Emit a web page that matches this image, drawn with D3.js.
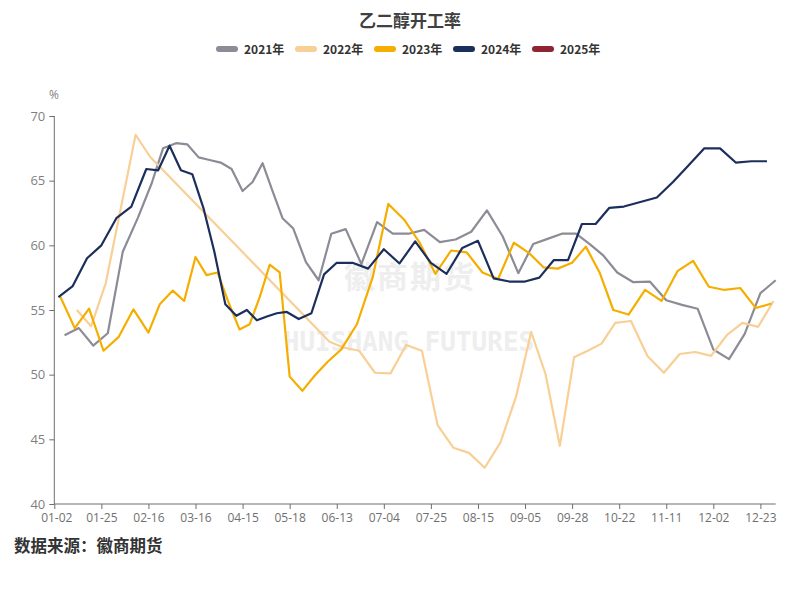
<!DOCTYPE html>
<html>
<head>
<meta charset="utf-8">
<script src="https://cdn.jsdelivr.net/npm/d3@7"></script>
<style>
  body { margin: 0; background: #fff; }
  svg text { font-family: "Noto Sans CJK SC", "Noto Sans", sans-serif; }
</style>
</head>
<body>
<svg id="chart" width="800" height="600"></svg>
<script>
// 乙二醇开工率 (weekly, %) — category axis MM-DD, one line per year
var tickLabels = ["01-02","01-25","02-16","03-16","04-15","05-18","06-13","07-04",
                  "07-25","08-15","09-05","09-28","10-22","11-11","12-02","12-23"];
var lastCategory = "12-30";
var yTicks = [40, 45, 50, 55, 60, 65, 70];

var dates2021 = ["01-07","01-14","01-21","01-28","02-04","02-11","02-18","02-25","03-04","03-11",
                 "03-18","03-25","04-01","04-08","04-15","04-22","04-29","05-06","05-13","05-20",
                 "05-27","06-03","06-10","06-17","06-24","07-01","07-08","07-15","07-22","07-29",
                 "08-05","08-12","08-19","08-26","09-02","09-09","09-16","09-23","09-30","10-07",
                 "10-14","10-21","10-28","11-04","11-11","11-18","11-25","12-02","12-09","12-16",
                 "12-23","12-30"];
var values2021 = [53.05,53.6,52.25,53.2,59.5,62.1,64.8,67.5,67.9,67.8,
                  66.8,66.6,66.4,65.9,64.2,64.9,66.35,64.2,62.1,61.3,
                  58.7,57.3,60.9,61.25,58.55,61.8,60.9,60.9,61.2,60.25,
                  60.45,61.05,62.7,60.7,57.85,60.1,60.5,60.9,60.9,60.1,
                  59.2,57.9,57.15,57.2,55.75,55.4,55.1,51.95,51.2,53.15,
                  56.3,57.3];

var dates2022 = ["01-13","01-20","01-27","02-03","02-10","02-17",
                 "06-09","06-16","06-23","06-30","07-07","07-14","07-21","07-28","08-04","08-11",
                 "08-18","08-25","09-01","09-08","09-15","09-22","09-29","10-06","10-13","10-20",
                 "10-27","11-03","11-10","11-17","11-24","12-01","12-08","12-15","12-22","12-29"];
var values2022 = [55.0,53.75,57.05,62.8,68.55,66.85,
                  52.55,52.1,51.85,50.15,50.1,52.3,51.85,46.1,44.35,43.95,
                  42.8,44.75,48.3,53.3,50.05,44.5,51.35,51.85,52.4,54.0,
                  54.15,51.45,50.15,51.6,51.75,51.45,53.05,54.0,53.7,55.7];

var dates2023 = ["01-05","01-12","01-19","01-26","02-02","02-09","02-16","02-23","03-02","03-09",
                 "03-16","03-23","03-30","04-06","04-13","04-20","04-27","05-04","05-11","05-18",
                 "05-25","06-01","06-08","06-15","06-22","06-29","07-06","07-13","07-20","07-27",
                 "08-03","08-10","08-17","08-24","08-31","09-07","09-14","09-21","09-28","10-05",
                 "10-12","10-19","10-26","11-02","11-09","11-16","11-23","11-30","12-07","12-14",
                 "12-21","12-28"];
var values2023 = [56.0,53.6,55.1,51.85,52.9,55.05,53.25,55.45,56.5,55.7,
                  59.1,57.7,57.9,55.6,53.5,53.9,56.0,58.5,57.9,49.85,
                  48.75,49.95,51.0,51.95,53.9,57.5,63.2,62.0,60.2,57.8,
                  59.6,59.45,57.9,57.4,60.2,59.4,58.3,58.2,58.65,59.9,
                  57.9,55.0,54.65,56.55,55.7,58.0,58.8,56.8,56.55,56.7,
                  55.15,55.5];

var dates2024 = ["01-04","01-11","01-18","01-25","02-01","02-08","02-15","02-22","02-29","03-07",
                 "03-14","03-21","03-28","04-04","04-11","04-18","04-25","05-02","05-09","05-16",
                 "05-23","05-30","06-06","06-13","06-20","06-27","07-04","07-11","07-18","07-25",
                 "08-01","08-08","08-15","08-22","08-29","09-05","09-12","09-19","09-26","10-03",
                 "10-10","10-17","10-24","10-31","11-07","11-14","11-21","11-28","12-05","12-12",
                 "12-19","12-26"];
var values2024 = [56.0,56.85,59.0,60.0,62.1,63.0,65.9,65.8,67.7,65.8,
                  65.5,62.9,59.5,55.45,54.55,55.0,54.2,54.5,54.75,54.85,
                  54.3,54.75,57.75,58.65,58.65,58.2,59.7,58.6,60.3,58.65,
                  57.8,59.8,60.35,57.45,57.2,57.2,57.5,58.85,58.85,61.65,
                  61.65,62.9,63.0,63.35,63.7,64.9,66.2,67.5,67.5,66.4,
                  66.5,66.5];

var dates2025 = ["01-02"];
var values2025 = [60.6];

var seriesNames = ["2021年", "2022年", "2023年", "2024年", "2025年"];
var seriesColors = ["#8c8c97", "#f8cf95", "#f5ae00", "#1c2f5c", "#8f2433"];
var seriesDates = [dates2021, dates2022, dates2023, dates2024, dates2025];
var seriesValues = [values2021, values2022, values2023, values2024, values2025];

var svg = d3.select("#chart");
var parseMD = function(s) { return d3.timeParse("%Y-%m-%d")("2024-" + s); };

// category-like x axis: tick labels evenly spaced, dates in between placed by day
var left = 54.3, firstTick = 54.3, lastTick = 760.4, right = 775.7;
var step = (lastTick - firstTick) / (tickLabels.length - 1);
var xRange = tickLabels.map(function(d, i) { return firstTick + i * step; }).concat([right]);
var x = d3.scaleTime()
    .domain(tickLabels.concat([lastCategory]).map(parseMD))
    .range(xRange);
var y = d3.scaleLinear().domain([40, 70]).range([504, 116]);

// watermark
svg.append("text").attr("x", 410).attr("y", 288).attr("text-anchor", "middle")
    .style("font-size", "31px").style("font-weight", "bold").style("fill", "#eeeeee")
    .style("letter-spacing", "2px")
    .text("徽商期货");
svg.append("text").attr("x", 409).attr("y", 351).attr("text-anchor", "middle")
    .style("font-family", "'DejaVu Sans Mono', monospace")
    .style("font-size", "26px").style("font-weight", "bold").style("fill", "#eeeeee")
    .text("HUISHANG FUTURES");

// title
svg.append("text").attr("x", 410).attr("y", 27).attr("text-anchor", "middle")
    .style("font-size", "17px").style("font-weight", "bold").style("fill", "#404040")
    .text("乙二醇开工率");

// legend
var legend = svg.append("g").attr("transform", "translate(216,49)");
seriesNames.forEach(function(name, i) {
  var g = legend.append("g").attr("transform", "translate(" + (i * 79) + ",0)");
  g.append("rect").attr("x", 0).attr("y", -3).attr("width", 22).attr("height", 6)
      .attr("rx", 3).style("fill", seriesColors[i]);
  g.append("text").attr("x", 28).attr("y", 4.5)
      .style("font-size", "12px").style("font-weight", "bold").style("fill", "#333")
      .text(name);
});

// y axis
var yAxis = svg.append("g").attr("transform", "translate(" + left + ",0)")
    .call(d3.axisLeft(y).tickValues(yTicks).tickSize(5).tickPadding(4));
yAxis.select(".domain").attr("d", "M0," + y(40) + "V" + y(70)).style("stroke", "#6e6e6e");
yAxis.selectAll(".tick line").style("stroke", "#6e6e6e");
yAxis.selectAll(".tick text").style("font-size", "13px").style("fill", "#7f7f7f")
    .style("font-family", "'Open Sans', sans-serif");
svg.append("text").attr("x", 49).attr("y", 99)
    .style("font-size", "12px").style("fill", "#7f7f7f")
    .style("font-family", "'Open Sans', sans-serif").text("%");

// x axis
var xAxis = svg.append("g").attr("transform", "translate(0," + y(40) + ")")
    .call(d3.axisBottom(x).tickValues(tickLabels.map(parseMD))
      .tickFormat(d3.timeFormat("%m-%d")).tickSize(5).tickPadding(4));
xAxis.select(".domain").attr("d", "M" + left + ",0H" + right).style("stroke", "#6e6e6e");
xAxis.selectAll(".tick line").style("stroke", "#6e6e6e");
xAxis.selectAll(".tick text").style("font-size", "12px").style("fill", "#707070")
    .style("font-family", "'Open Sans', sans-serif");
// keep the first date label clear of the "40" tick label
xAxis.selectAll(".tick text").filter(function(d, i) { return i === 0; }).attr("dx", "2px");

// lines
var line = d3.line()
    .x(function(d) { return x(d.date); })
    .y(function(d) { return y(d.value); });
seriesNames.forEach(function(name, i) {
  var data = seriesDates[i].map(function(d, j) {
    return { date: parseMD(d), value: seriesValues[i][j] };
  });
  svg.append("path").datum(data)
      .attr("d", line)
      .style("fill", "none")
      .style("stroke", seriesColors[i])
      .style("stroke-width", 2.2)
      .style("stroke-linejoin", "round");
});

// source
svg.append("text").attr("x", 14).attr("y", 552)
    .style("font-size", "16.5px").style("font-weight", "bold").style("fill", "#333")
    .text("数据来源：徽商期货");
</script>
</body>
</html>
